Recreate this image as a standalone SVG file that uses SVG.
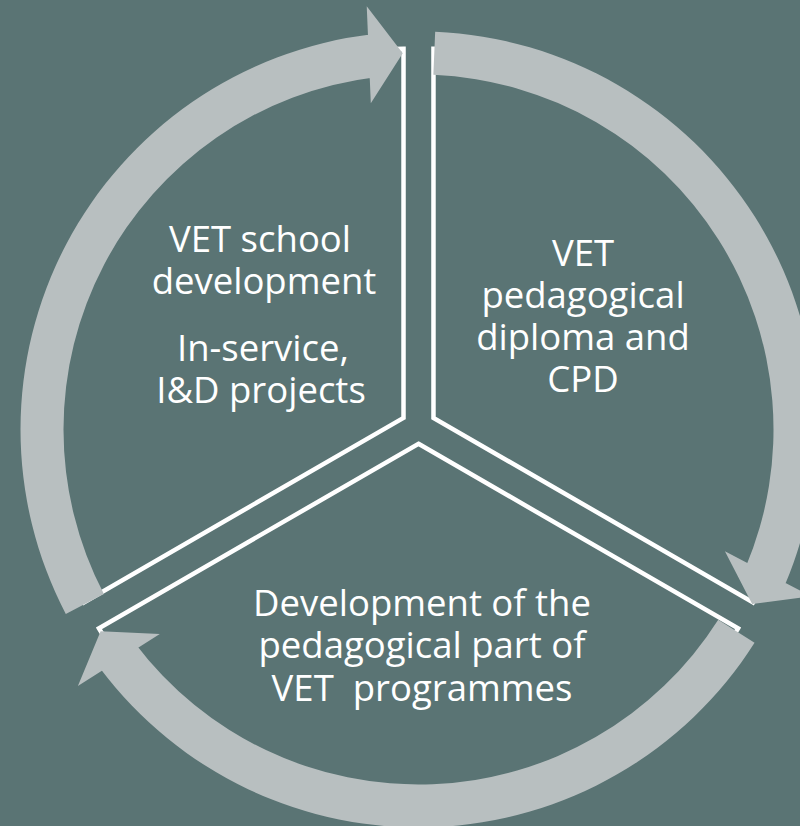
<svg xmlns="http://www.w3.org/2000/svg" xmlns:xlink="http://www.w3.org/1999/xlink" width="800" height="826" viewBox="0 0 800 826">
  <style>
    .wedge { fill: none; stroke: #ffffff; stroke-width: 4.5; stroke-linejoin: miter; }
    .ring { fill: #b8bfc0; stroke: none; }
    .label { font-family: "Open Sans", "Liberation Sans", sans-serif; font-size: 36.5px; fill: #ffffff; text-anchor: middle; }
  </style>
  <defs>
    <!-- exploded pie sector spanning 0..120 deg, centre at origin -->
    <path id="sector" d="M 14.98,-8.65 L 14.98,-377.65 A 369 369 0 0 1 334.54,175.85 Z"/>
    <!-- curved arrow covering one third of the ring, centre at origin -->
    <path id="arc-arrow" d="M 16.67,-397.65 A 398 398 0 0 1 366.36,155.51 L 326.78,138.71 A 355 355 0 0 0 14.87,-354.69 Z M 392.38,166.77 L 333.65,174.43 L 306.42,121.83 Z"/>
  </defs>

  <rect x="0" y="0" width="800" height="826" fill="#5a7474"/>

  <g id="node-school">
    <use xlink:href="#sector" class="wedge" transform="translate(418.5 426.5) rotate(240)"/>
    <text class="label" x="260" y="252">VET school</text>
    <text class="label" x="264" y="294">development</text>
    <text class="label" x="263" y="361">In-service,</text>
    <text class="label" x="261" y="403">I&amp;D projects</text>
  </g>

  <g id="node-diploma">
    <use xlink:href="#sector" class="wedge" transform="translate(418.5 426.5)"/>
    <text class="label" x="583" y="266">VET</text>
    <text class="label" x="583" y="308">pedagogical</text>
    <text class="label" x="583" y="350">diploma and</text>
    <text class="label" x="583" y="392">CPD</text>
  </g>

  <g id="node-programmes">
    <use xlink:href="#sector" class="wedge" transform="translate(418.5 426.5) rotate(120)"/>
    <text class="label" x="422" y="616">Development of the</text>
    <text class="label" x="422" y="658">pedagogical part of</text>
    <text class="label" x="422" y="701" xml:space="preserve">VET  programmes</text>
  </g>

  <g id="connectors" transform="translate(418.5 429.5)">
    <use xlink:href="#arc-arrow" class="ring"/>
    <use xlink:href="#arc-arrow" class="ring" transform="rotate(120)"/>
    <use xlink:href="#arc-arrow" class="ring" transform="rotate(240)"/>
  </g>
</svg>
